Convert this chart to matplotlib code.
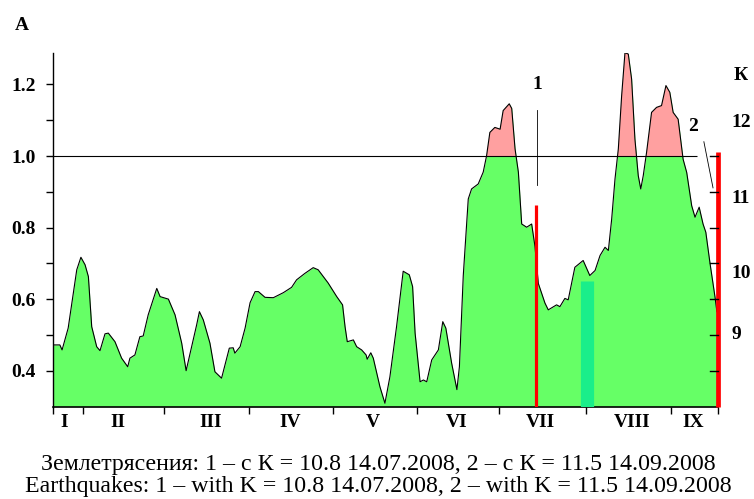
import matplotlib
matplotlib.use('Agg')
import matplotlib.pyplot as plt
import numpy as np
from matplotlib.transforms import blended_transform_factory

# ---- data (days from start of record, amplitude A) ----
day = [0.0, 2.3, 3.1, 5.3, 8.4, 9.9, 11.4, 12.6, 13.8, 15.6, 16.8, 18.6, 19.8, 22.2,
       24.6, 26.8, 27.6, 29.4, 31.2, 32.4, 34.2, 37.3, 38.5, 41.5, 43.9, 46.3, 47.9,
       49.9, 51.7, 52.7, 54.1, 56.5, 58.3, 60.7, 63.5, 64.9, 65.5, 67.4, 69.2, 71.0,
       72.8, 74.0, 76.4, 79.4, 83.0, 86.0, 87.8, 90.8, 93.8, 95.6, 99.2, 102.3, 104.4,
       105.3, 106.1, 108.3, 109.5, 111.3, 112.9, 113.3, 114.6, 115.5, 117.9, 119.7,
       121.5, 123.9, 126.3, 128.5, 129.7, 130.6, 132.4, 133.6, 134.8, 136.6, 139.0,
       140.6, 141.7, 143.8, 145.7, 146.6, 148.0, 149.8, 151.0, 153.4, 155.2, 156.4,
       157.6, 159.4, 161.3, 162.4, 164.6, 165.5, 166.7, 167.9, 169.1, 170.9, 172.7,
       173.9, 175.1, 177.5, 178.7, 181.7, 182.9, 184.7, 185.9, 188.3, 191.3, 193.7,
       195.6, 197.4, 199.2, 200.4, 201.6, 202.8, 204.0, 205.2, 206.4, 207.6, 208.8,
       210.0, 211.2, 212.1, 213.0, 214.2, 216.0, 217.8, 219.6, 221.2, 222.6, 223.8,
       225.6, 227.4, 228.7, 230.5, 231.7, 233.2, 234.6, 235.6, 237.1, 238.9, 239.6]
amp = [0.472, 0.472, 0.458, 0.519, 0.682, 0.717, 0.696, 0.663, 0.523, 0.467, 0.456,
       0.503, 0.505, 0.481, 0.435, 0.411, 0.435, 0.444, 0.495, 0.497, 0.556, 0.630,
       0.607, 0.600, 0.556, 0.477, 0.400, 0.467, 0.528, 0.565, 0.542, 0.477, 0.397,
       0.379, 0.463, 0.464, 0.449, 0.467, 0.519, 0.590, 0.621, 0.621, 0.605, 0.604,
       0.618, 0.633, 0.654, 0.672, 0.688, 0.682, 0.645, 0.607, 0.584, 0.523, 0.481,
       0.486, 0.467, 0.458, 0.444, 0.432, 0.450, 0.435, 0.355, 0.309, 0.383, 0.523,
       0.678, 0.668, 0.635, 0.505, 0.369, 0.374, 0.369, 0.430, 0.458, 0.537, 0.519,
       0.421, 0.347, 0.411, 0.666, 0.880, 0.908, 0.922, 0.955, 1.000, 1.066, 1.080,
       1.075, 1.127, 1.146, 1.133, 1.020, 0.955, 0.810, 0.801, 0.810, 0.747, 0.644,
       0.589, 0.570, 0.584, 0.579, 0.602, 0.598, 0.689, 0.708, 0.666, 0.680, 0.722,
       0.745, 0.736, 0.824, 0.936, 1.020, 1.169, 1.289, 1.285, 1.215, 1.047, 0.945,
       0.908, 0.945, 1.010, 1.122, 1.136, 1.141, 1.197, 1.178, 1.122, 1.103, 0.991,
       0.954, 0.861, 0.829, 0.857, 0.810, 0.787, 0.701, 0.607, 0.565]

threshold = 1.0
month_edges = [0.0, 10.8, 39.9, 70.7, 100.8, 131.3, 160.9, 192.2, 223.2, 240.0]
month_labels = ['I', 'II', 'III', 'IV', 'V', 'VI', 'VII', 'VIII', 'IX']
month_label_pos = [3.7, 23.3, 56.7, 85.4, 115.2, 145.6, 176.0, 209.1, 230.9]
quake_day = [174.4, 240.0]
quake_top = [0.864, 1.01]
quake_labels = ['1', '2']
k_tick_pos = [0.508, 0.676, 0.888, 1.099]
k_tick_labels = ['9', '10', '11', '12']
mark_day = 192.6
mark_top = 0.651
caption = ["Землетрясения: 1 – с К = 10.8 14.07.2008, 2 – с К = 11.5 14.09.2008",
           "Earthquakes: 1 – with K = 10.8 14.07.2008, 2 – with K = 11.5 14.09.2008"]

SERIF = ['Liberation Serif', 'DejaVu Serif']
plt.rcParams['font.family'] = SERIF

W, H = 754, 499
fig = plt.figure(figsize=(W / 100, H / 100), dpi=100)
x0, x1, ytop, ybot = 53.5, 718.0, 53.0, 406.7
ax = fig.add_axes([x0 / W, 1 - ybot / H, (x1 - x0) / W, (ybot - ytop) / H])
ymin, ymax = 0.2993, 1.288
ax.set_xlim(0, 240)
ax.set_ylim(ymin, ymax)

x = np.array(day)
y = np.array(amp)
ax.fill_between(x, ymin, y, color='#66ff66', lw=0, zorder=1)
ax.fill_between(x, threshold, y, where=y > threshold, interpolate=True,
                color='#ffa0a0', lw=0, zorder=2)
ax.plot(x, y, color='black', lw=0.8, zorder=4)
ax.hlines(threshold, 0, 232.4, color='black', lw=0.8, zorder=4)

# mint marker band
ax.plot([mark_day, mark_day], [ymin, mark_top], color='#1aee8a', lw=9.5,
        solid_capstyle='butt', zorder=3)

# earthquake lines
ax.vlines(quake_day[0], ymin, quake_top[0], color='#ff0000', lw=2.3, zorder=5)
ax.vlines(quake_day[1], ymin, quake_top[1], color='#ff0000', lw=3.4, zorder=5,
          clip_on=False)

# annotation labels and pointers
ax.text(174.6, 1.199, quake_labels[0], ha='center', va='center', fontsize=14,
        fontweight='bold')
ax.plot([174.6, 174.6], [1.129, 0.919], color='black', lw=0.6, zorder=4)
ax.text(230.9, 1.082, quake_labels[1], ha='center', va='center', fontsize=14,
        fontweight='bold', clip_on=False)
ax.plot([234.9, 238.2], [1.040, 0.911], color='black', lw=0.6, zorder=4)

# spines
for s in ['top', 'right']:
    ax.spines[s].set_visible(False)
ax.spines['left'].set_linewidth(1.0)
ax.spines['bottom'].set_linewidth(1.2)

# y ticks
ax.set_yticks([0.4, 0.6, 0.8, 1.0, 1.2])
ax.set_yticklabels(['0.4', '0.6', '0.8', '1.0', '1.2'])
ax.set_yticks([0.5, 0.7, 0.9, 1.1], minor=True)
ax.tick_params(axis='y', which='both', direction='out', length=5, width=1,
               pad=8, labelsize=14)
for lab in ax.get_yticklabels():
    lab.set_fontweight('bold')

# x ticks: 30-day inward ticks, month separators outward
ax.xaxis.remove_overlapping_locs = False
ax.set_xticks(np.arange(0, 241, 30))
ax.set_xticklabels([])
ax.set_xticks(month_edges, minor=True)
ax.tick_params(axis='x', which='major', direction='in', length=5, width=1)
ax.tick_params(axis='x', which='minor', direction='out', length=5, width=1)

trans = blended_transform_factory(ax.transData, ax.transAxes)
for p, lab in zip(month_label_pos, month_labels):
    ax.text(p, -0.021, lab, transform=trans, ha='center', va='top',
            fontsize=14, fontweight='bold')

# right inward ticks
transr = blended_transform_factory(ax.transAxes, ax.transData)
for v in np.arange(0.4, 1.01, 0.1):
    ax.plot([1 - 8 / 664.5, 1], [v, v], transform=transr, color='black',
            lw=1, clip_on=False, zorder=6)

# K axis labels
ax2 = ax.twinx()
ax2.set_ylim(ymin, ymax)
ax2.set_yticks(k_tick_pos)
ax2.set_yticklabels(k_tick_labels)
ax2.tick_params(axis='y', length=0, pad=10, labelsize=14)
for lab in ax2.get_yticklabels():
    lab.set_fontweight('bold')
for s in ax2.spines.values():
    s.set_visible(False)
ax2.set_xticks([])

fig.text(741 / W, 1 - 76 / H, 'К', ha='center', va='center', fontsize=14,
         fontweight='bold')
fig.text(22 / W, 1 - 25 / H, 'A', ha='center', va='center', fontsize=14,
         fontweight='bold')

fig.text(378 / W, 1 - 470 / H, caption[0], ha='center', va='baseline', fontsize=17.2)
fig.text(378 / W, 1 - 492 / H, caption[1], ha='center', va='baseline', fontsize=17.2)

fig.savefig('out.png', dpi=100)
